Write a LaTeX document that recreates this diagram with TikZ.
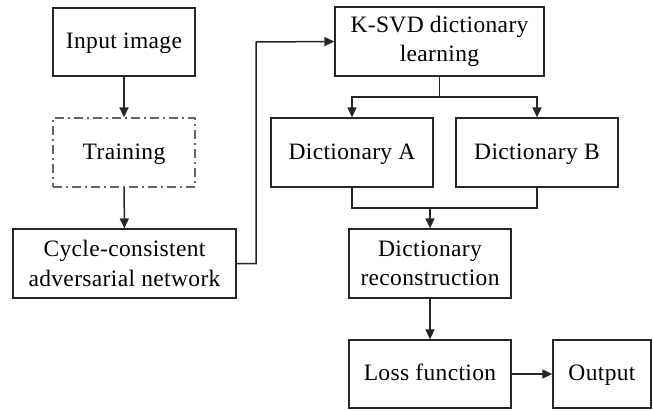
\documentclass[tikz,border=0pt]{standalone}
\usepackage{fontspec}
\setmainfont{Liberation Serif}[LetterSpace=1.5]
\usetikzlibrary{arrows.meta}
\begin{document}
\begin{tikzpicture}[x=1pt,y=-1pt,
  box/.style={draw=black!85,line width=1.3pt,inner sep=0pt,align=center,font=\fontsize{23.5}{29.5}\selectfont},
  one/.style={text height=17pt,text depth=4pt},
  dbox/.style={box,draw=black!60,dash pattern=on 9pt off 4pt on 2pt off 4pt},
  arr/.style={line width=1.5pt,draw=black!85,-{Triangle[width=9pt,length=10pt]}},
  ln/.style={line width=1.5pt,draw=black!85}]
\useasboundingbox (0,0) rectangle (653,410);
\node[box,one,minimum width=142pt,minimum height=68pt] (in) at (124,42) {Input image};
\node[dbox,one,minimum width=142pt,minimum height=69pt] (tr) at (124,152.5) {Training};
\node[box,minimum width=223pt,minimum height=69pt] (cy) at (124.5,263.5) {Cycle-consistent\\adversarial network};
\node[box,minimum width=209pt,minimum height=69pt] (ks) at (439.5,41.5) {K-SVD dictionary\\learning};
\node[box,one,minimum width=162pt,minimum height=69pt] (da) at (352,152.5) {Dictionary A};
\node[box,one,minimum width=162pt,minimum height=69pt] (db) at (537,152.5) {Dictionary B};
\node[box,minimum width=162pt,minimum height=69pt] (dr) at (430,263.5) {Dictionary\\reconstruction};
\node[box,one,minimum width=162pt,minimum height=68pt] (lf) at (430,374) {Loss function};
\node[box,one,minimum width=98pt,minimum height=68pt] (out) at (602,374) {Output};
\coordinate (v1) at (256,263.5);
\coordinate (v2) at (256,42);
\coordinate (br) at (439.5,97);
\coordinate (mg) at (430,208);
\draw[arr] (in) -- (tr);
\draw[arr] (tr) -- (cy);
\draw[arr] (cy.east) -- (v1) -- (v2) -- (ks.west);
\draw[ln] (ks.south) -- (br);
\draw[arr] (br) -| (da.north);
\draw[arr] (br) -| (db.north);
\draw[ln] (da.south) |- (mg);
\draw[ln] (db.south) |- (mg);
\draw[arr] (mg) -- (dr.north);
\draw[arr] (dr) -- (lf);
\draw[arr] (lf) -- (out);
\end{tikzpicture}
\end{document}
